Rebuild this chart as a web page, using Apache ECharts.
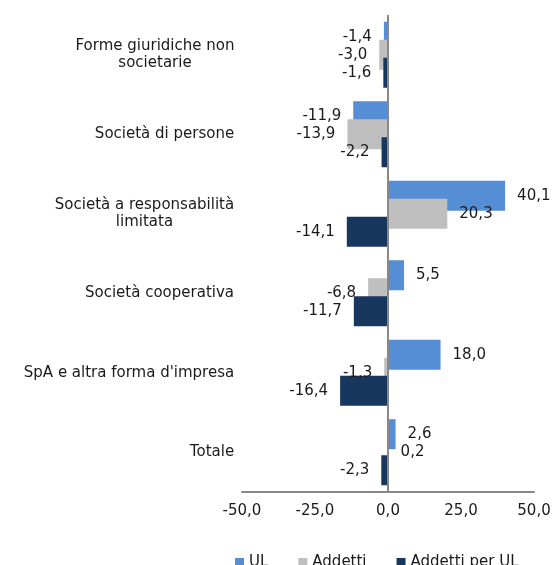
<!DOCTYPE html>
<html>
<head>
<meta charset="utf-8">
<script src="https://cdn.jsdelivr.net/npm/echarts@6/dist/echarts.min.js"></script>
<style>
  body { margin: 0; background: #fff; }
  #chart { width: 555px; height: 565px; }
</style>
</head>
<body>
<div id="chart"></div>
<script>
const categories = [
  "Forme giuridiche non\nsocietarie",
  "Società di persone",
  "Società a responsabilità\nlimitata",
  "Società cooperativa",
  "SpA e altra forma d'impresa",
  "Totale",
];
const ulData = [-1.4, -11.9, 40.1, 5.5, 18.0, 2.6];
const addettiData = [-3.0, -13.9, 20.3, -6.8, -1.3, 0.2];
const addettiPerUlData = [-1.6, -2.2, -14.1, -11.7, -16.4, -2.3];
const xTicks = { min: -50, max: 50, interval: 25 };

const FONT = "DejaVu Sans";
const FS = 15;
const TXT = "#1a1a1a";

const fmt = (v) => v.toFixed(1).replace(".", ",");

// measure lines so multi-line labels can be centred inside a right-aligned block
const ctx = document.createElement("canvas").getContext("2d");
ctx.font = FS + 'px "' + FONT + '"';
const rich = {};
categories.forEach((c, i) => {
  const w = Math.max(...c.split("\n").map((l) => ctx.measureText(l).width));
  rich["c" + i] = {
    width: Math.ceil(w) + 1,
    align: "center",
    fontFamily: FONT,
    fontSize: FS,
    lineHeight: 17,
    color: TXT,
  };
});

const mkData = (arr) =>
  arr.map((v) => ({
    value: v,
    label: { position: v < 0 ? "left" : "right" },
  }));

const mkSeries = (name, arr, color) => ({
  name: name,
  type: "bar",
  data: mkData(arr),
  barWidth: 30,
  barGap: "-40%",
  itemStyle: { color: color },
  label: {
    show: true,
    distance: 12,
    formatter: (p) => fmt(p.value),
    fontFamily: FONT,
    fontSize: FS,
    color: TXT,
  },
});

const chart = echarts.init(document.getElementById("chart"));
const series = [
  mkSeries("UL", ulData, "#558ED5"),
  mkSeries("Addetti", addettiData, "#BFBFBF"),
  mkSeries("Addetti per UL", addettiPerUlData, "#17375E"),
];
// vertical zero line
series[2].markLine = {
  silent: true,
  symbol: "none",
  label: { show: false },
  lineStyle: { color: "#888", width: 2, type: "solid" },
  data: [{ xAxis: 0 }],
  z: 10,
};

chart.setOption({
  animation: false,
  grid: { left: 242, right: 21, top: 15, bottom: 73, containLabel: false },
  legend: {
    left: 230,
    top: 550,
    icon: "rect",
    itemWidth: 9,
    itemHeight: 9,
    itemGap: 30,
    textStyle: { fontFamily: FONT, fontSize: FS, color: TXT },
    data: ["UL", "Addetti", "Addetti per UL"],
  },
  xAxis: {
    type: "value",
    min: xTicks.min,
    max: xTicks.max,
    interval: xTicks.interval,
    axisLine: { show: true, onZero: false, lineStyle: { color: "#888", width: 2 } },
    axisTick: { show: false },
    splitLine: { show: false },
    axisLabel: {
      margin: 12,
      formatter: (v) => fmt(v),
      fontFamily: FONT,
      fontSize: FS,
      color: TXT,
    },
  },
  yAxis: {
    type: "category",
    inverse: true,
    data: categories,
    axisLine: { show: false, onZero: false },
    axisTick: { show: false },
    splitLine: { show: false },
    axisLabel: {
      margin: 7,
      align: "right",
      formatter: (value, index) =>
        value.split("\n").map((l) => "{c" + index + "|" + l + "}").join("\n"),
      rich: rich,
    },
  },
  series: series,
});
</script>
</body>
</html>
